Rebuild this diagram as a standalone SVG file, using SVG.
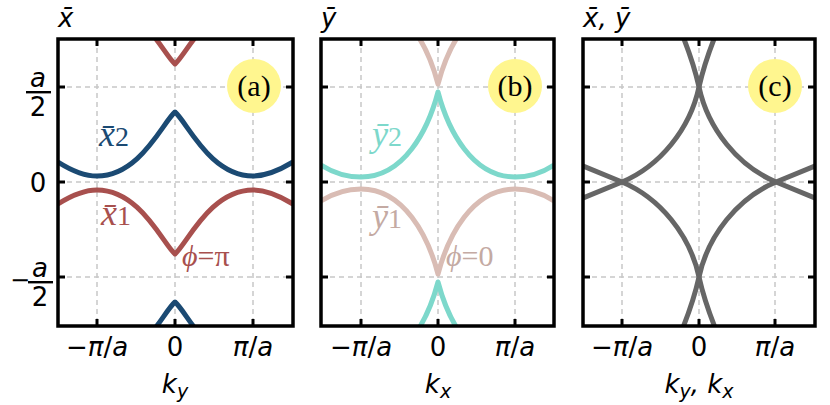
<svg xmlns="http://www.w3.org/2000/svg" width="830" height="405" viewBox="0 0 830 405">
<defs>
<style>
.grid{stroke:#c8c8c8;stroke-width:1.5;stroke-dasharray:5,4;fill:none}
.frame{fill:none;stroke:#000;stroke-width:3.5}
.tick{stroke:#000;stroke-width:3}
.c{fill:none;stroke-width:5;stroke-linecap:butt;stroke-linejoin:round}
.t{font-family:"DejaVu Sans",sans-serif;font-size:26px;fill:#000}
.i{font-style:italic}
.s{font-family:"Liberation Serif",serif;fill:#000}
</style>
<clipPath id="ca"><rect x="58" y="39" width="235" height="287"/></clipPath>
<clipPath id="cb"><rect x="321" y="39" width="233" height="287"/></clipPath>
<clipPath id="cc"><rect x="583" y="39" width="232" height="287"/></clipPath>
</defs>
<rect width="830" height="405" fill="#fff"/>

<g id="panel-a">
<path class="grid" d="M97,39V326M175,39V326M253,39V326M58,87H293M58,182H293M58,277H293"/>
<g clip-path="url(#ca)">
<g id="xbar2" stroke="#1b4a73" class="c">
<path d="M58,162 Q80,176 97,176 C140,176 163,122 175,112 C187,122 210,176 253,176 Q270,176 293,162"/>
<path transform="translate(0,190)" d="M58,162 Q80,176 97,176 C140,176 163,122 175,112 C187,122 210,176 253,176 Q270,176 293,162"/>
</g>
<g id="xbar1" stroke="#a8504e" class="c">
<path d="M58,204 Q80,190 97,190 C140,190 163,244 175,254 C187,244 210,190 253,190 Q270,190 293,204"/>
<path transform="translate(0,-190)" d="M58,204 Q80,190 97,190 C140,190 163,244 175,254 C187,244 210,190 253,190 Q270,190 293,204"/>
</g>
</g>
<path class="tick" d="M97,39v7M175,39v7M253,39v7M97,326v-7M175,326v-7M253,326v-7M58,87h7M58,182h7M58,277h7M293,87h-7M293,182h-7M293,277h-7"/>
<rect class="frame" x="58" y="39" width="235" height="287"/>
<circle cx="254" cy="86" r="27" fill="#fff68f"/>
<text class="s" x="254" y="96" font-size="30" text-anchor="middle">(a)</text>
<text class="s i" x="99" y="146" font-size="36" style="fill:#1b4a73">x̄<tspan font-size="28" font-style="normal">2</tspan></text>
<text class="s i" x="101" y="225" font-size="36" style="fill:#a8504e">x̄<tspan font-size="28" font-style="normal">1</tspan></text>
<text class="s i" x="182" y="266" font-size="30" style="fill:#a8504e">ϕ<tspan font-style="normal">=π</tspan></text>
</g>

<g id="panel-b">
<path class="grid" d="M361,39V326M438,39V326M515,39V326M321,87H554M321,182H554M321,277H554"/>
<g clip-path="url(#cb)">
<g id="ybar2" stroke="#7dd8cb" class="c">
<path d="M321,165 Q340,177 361,177 C404,177 428,130 438,92 C448,130 472,177 515,177 Q536,177 554,165"/>
<path transform="translate(0,190)" d="M321,165 Q340,177 361,177 C404,177 428,130 438,92 C448,130 472,177 515,177 Q536,177 554,165"/>
</g>
<g id="ybar1" stroke="#d9bcb4" class="c">
<path d="M321,201 Q340,189 361,189 C404,189 428,236 438,274 C448,236 472,189 515,189 Q536,189 554,201"/>
<path transform="translate(0,-190)" d="M321,201 Q340,189 361,189 C404,189 428,236 438,274 C448,236 472,189 515,189 Q536,189 554,201"/>
</g>
</g>
<path class="tick" d="M361,39v7M438,39v7M515,39v7M361,326v-7M438,326v-7M515,326v-7M321,87h7M321,182h7M321,277h7M554,87h-7M554,182h-7M554,277h-7"/>
<rect class="frame" x="321" y="39" width="233" height="287"/>
<circle cx="515" cy="86" r="27" fill="#fff68f"/>
<text class="s" x="515" y="96" font-size="30" text-anchor="middle">(b)</text>
<text class="s i" x="372" y="146" font-size="36" style="fill:#7dd8cb">ȳ<tspan font-size="28" font-style="normal">2</tspan></text>
<text class="s i" x="372" y="228" font-size="36" style="fill:#c4aaa3">ȳ<tspan font-size="28" font-style="normal">1</tspan></text>
<text class="s i" x="446" y="266" font-size="30" style="fill:#c4aaa3">ϕ<tspan font-style="normal">=0</tspan></text>
</g>

<g id="panel-c">
<path class="grid" d="M622,39V326M699,39V326M775,39V326M583,87H815M583,182H815M583,277H815"/>
<g clip-path="url(#cc)" stroke="#666" class="c">
<path d="M578,164 L622,182 C660,198 690,235 699,277 C703,295 708,310 716,330"/>
<path transform="matrix(-1,0,0,1,1398,0)" d="M578,164 L622,182 C660,198 690,235 699,277 C703,295 708,310 716,330"/>
<path transform="matrix(1,0,0,-1,0,364)" d="M578,164 L622,182 C660,198 690,235 699,277 C703,295 708,310 716,330"/>
<path transform="matrix(-1,0,0,-1,1398,364)" d="M578,164 L622,182 C660,198 690,235 699,277 C703,295 708,310 716,330"/>
</g>
<path class="tick" d="M622,39v7M699,39v7M775,39v7M622,326v-7M699,326v-7M775,326v-7M583,87h7M583,182h7M583,277h7M815,87h-7M815,182h-7M815,277h-7"/>
<rect class="frame" x="583" y="39" width="232" height="287"/>
<circle cx="775" cy="86" r="27" fill="#fff68f"/>
<text class="s" x="775" y="96" font-size="30" text-anchor="middle">(c)</text>
</g>

<g id="axis-labels" class="t">
<text x="58" y="27" class="i">x̄</text>
<text x="321" y="27" class="i">ȳ</text>
<text x="583" y="27" class="i">x̄, ȳ</text>
<text x="97" y="356" text-anchor="middle"><tspan>−</tspan><tspan class="i">π</tspan>/<tspan class="i">a</tspan></text>
<text x="175" y="356" text-anchor="middle">0</text>
<text x="253" y="356" text-anchor="middle"><tspan class="i">π</tspan>/<tspan class="i">a</tspan></text>
<text x="361" y="356" text-anchor="middle"><tspan>−</tspan><tspan class="i">π</tspan>/<tspan class="i">a</tspan></text>
<text x="438" y="356" text-anchor="middle">0</text>
<text x="515" y="356" text-anchor="middle"><tspan class="i">π</tspan>/<tspan class="i">a</tspan></text>
<text x="622" y="356" text-anchor="middle"><tspan>−</tspan><tspan class="i">π</tspan>/<tspan class="i">a</tspan></text>
<text x="699" y="356" text-anchor="middle">0</text>
<text x="775" y="356" text-anchor="middle"><tspan class="i">π</tspan>/<tspan class="i">a</tspan></text>
<text x="175" y="393" text-anchor="middle" class="i">k<tspan font-size="19" dy="5">y</tspan></text>
<text x="438" y="393" text-anchor="middle" class="i">k<tspan font-size="19" dy="5">x</tspan></text>
<text x="699" y="393" text-anchor="middle" class="i">k<tspan font-size="19" dy="5">y</tspan><tspan dy="-5">, k</tspan><tspan font-size="19" dy="5">x</tspan></text>
<text x="38" y="87" text-anchor="middle" class="i">a</text>
<rect x="26" y="91" width="25" height="2.4" fill="#000"/>
<text x="38" y="116" text-anchor="middle">2</text>
<text x="38" y="192" text-anchor="middle">0</text>
<text x="10" y="288" font-size="24">−</text>
<text x="40" y="277" text-anchor="middle" class="i">a</text>
<rect x="28" y="281" width="25" height="2.4" fill="#000"/>
<text x="40" y="306" text-anchor="middle">2</text>
</g>
</svg>
